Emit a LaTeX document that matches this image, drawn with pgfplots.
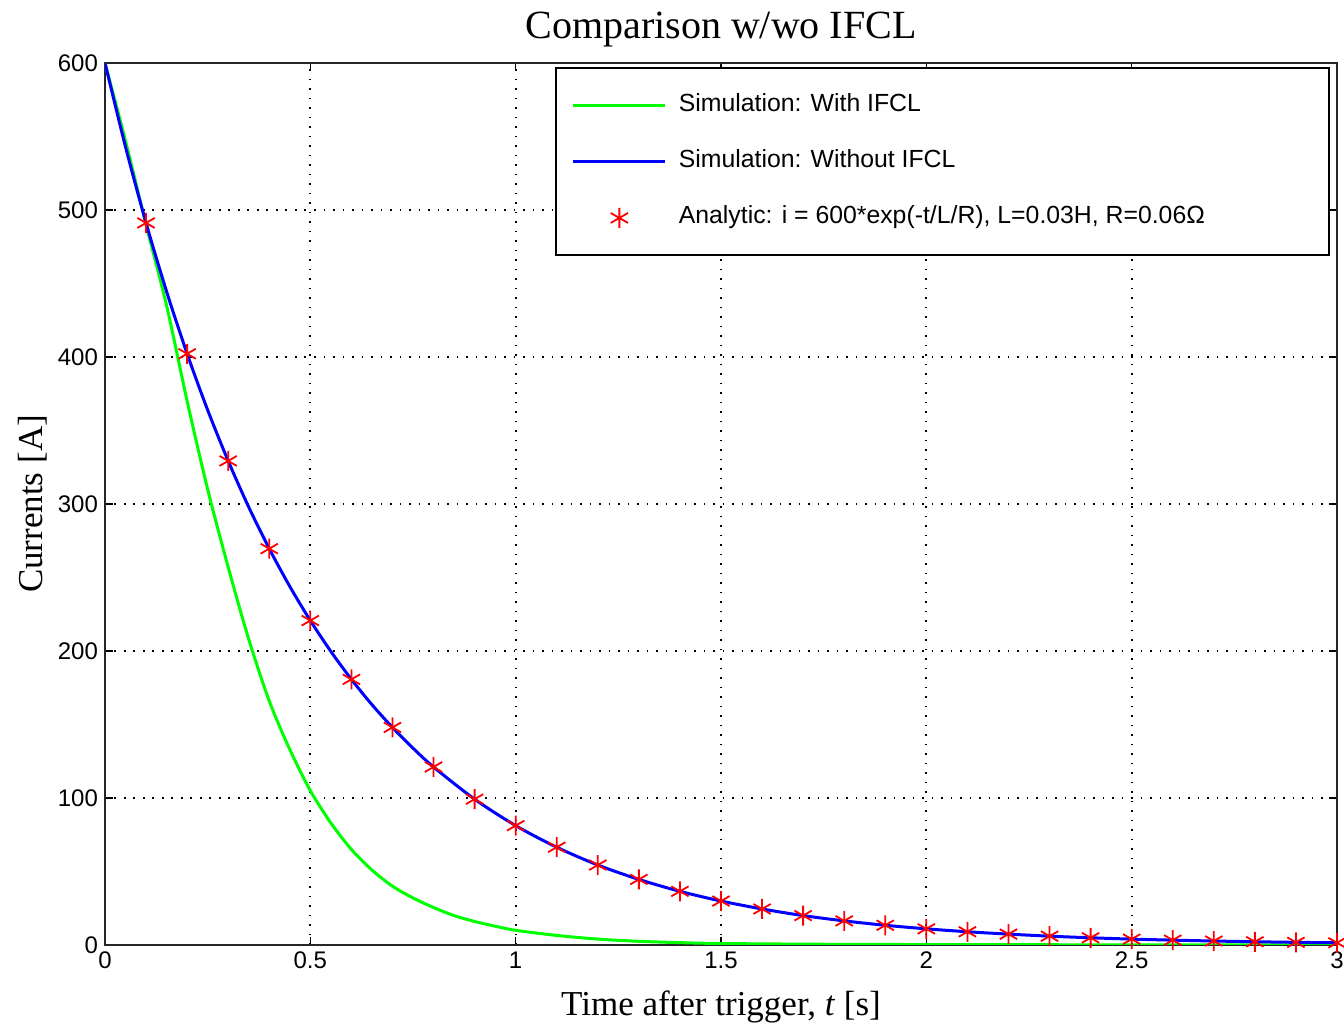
\documentclass[border=0pt]{standalone}
\usepackage{fontspec}
\setmainfont{Liberation Serif}
\setsansfont{Liberation Sans}
\usepackage{pgfplots}
\pgfplotsset{compat=1.18}
\begin{document}
\begin{tikzpicture}
\begin{axis}[
  scale only axis, width=616pt, height=441pt,
  xmin=0, xmax=3, ymin=0, ymax=600,
  xtick={0,0.5,1,1.5,2,2.5,3},
  xticklabels={0,0.5,1,1.5,2,2.5,3},
  ytick={0,100,200,300,400,500,600},
  tick align=inside, xtick pos=both, ytick pos=both,
  major tick length=4pt,
  tick style={black, line width=0.8pt},
  axis line style={line width=0.8pt, black!85},
  grid=major,
  major grid style={black, line width=0.9pt, dash pattern=on 0.9pt off 3.85pt},
  ticklabel style={font=\sffamily\fontsize{12}{14}\selectfont},
  /pgf/number format/assume math mode=true,
  title={\fontsize{20}{24}\selectfont Comparison w/wo IFCL},
  title style={at={(axis description cs:0.5,1.0144)}, anchor=base, yshift=0pt},
  xlabel={\fontsize{17.5}{20}\selectfont Time after trigger, \textit{t} [s]},
  xlabel style={at={(axis description cs:0.5,-0.0794)}, anchor=base},
  ylabel={\fontsize{17.5}{20}\selectfont Currents [A]},
  ylabel style={at={(axis description cs:-0.0511,0.5)}, anchor=base},
  legend cell align=left,
  legend image code/.code={\draw[mark repeat=2,mark phase=2,#1] plot coordinates {(0pt,0pt) (23pt,0pt) (46pt,0pt)};},
  legend style={at={(0.994,0.995)}, anchor=north east, draw=black, line width=0.75pt,
    font=\sffamily\fontsize{12.4}{14}\selectfont,
    inner xsep=8pt, inner ysep=12.5pt, row sep=16.2pt,
    nodes={inner sep=0pt, text height=9pt, text depth=3pt},
    /tikz/every odd column/.append style={column sep=6pt}},
]
\coordinate (sw) at (rel axis cs:0,0);
\coordinate (ne) at (rel axis cs:1,1);
\addplot[color={rgb,1:red,0;green,1;blue,0}, line width=1.5pt, smooth, tension=0.5] coordinates {
(0,600) (0.05,547) (0.1,490) (0.15,435) (0.2,370) (0.25,310)
(0.3,257) (0.35,208) (0.4,166) (0.45,133) (0.5,105) (0.55,83) (0.6,65) (0.65,51)
(0.7,40) (0.75,32) (0.8,25.5) (0.85,20) (0.9,16) (0.95,12.8) (1.0,10) (1.1,6.5)
(1.2,4) (1.3,2.5) (1.4,1.6) (1.5,1) (1.75,0.5) (2,0.3) (2.5,0.1) (3,0)};
\addlegendentry{\makebox[317pt][l]{Simulation: With IFCL}}
\addplot[color={rgb,1:red,0;green,0;blue,1}, line width=1.5pt, smooth] coordinates {
(0,600) (0.05,542.9) (0.1,491.2) (0.15,444.5) (0.2,402.2) (0.25,363.9) (0.3,329.3)
(0.35,297.9) (0.4,269.6) (0.45,243.9) (0.5,220.7) (0.55,199.7) (0.6,180.7) (0.65,163.5)
(0.7,148.0) (0.75,133.9) (0.8,121.1) (0.9,99.2) (1.0,81.2) (1.1,66.5) (1.2,54.4)
(1.3,44.6) (1.4,36.5) (1.5,29.9) (1.6,24.5) (1.7,20.0) (1.8,16.4) (1.9,13.4)
(2.0,11.0) (2.1,9.0) (2.2,7.4) (2.3,6.0) (2.4,4.9) (2.5,4.0) (2.6,3.3) (2.7,2.7)
(2.8,2.2) (2.9,1.8) (3.0,1.5)};
\addlegendentry{\makebox[317pt][l]{Simulation: Without IFCL}}
\addplot[only marks, mark=asterisk, mark size=5pt, color={rgb,1:red,1;green,0;blue,0}, line width=0.9pt] coordinates {
(0.1,491.2) (0.2,402.2) (0.3,329.3) (0.4,269.6) (0.5,220.7) (0.6,180.7) (0.7,148.0)
(0.8,121.1) (0.9,99.2) (1.0,81.2) (1.1,66.5) (1.2,54.4) (1.3,44.6) (1.4,36.5)
(1.5,29.9) (1.6,24.5) (1.7,20.0) (1.8,16.4) (1.9,13.4) (2.0,11.0) (2.1,9.0)
(2.2,7.4) (2.3,6.0) (2.4,4.9) (2.5,4.0) (2.6,3.3) (2.7,2.7) (2.8,2.2) (2.9,1.8) (3.0,1.5)};
\addlegendentry{\makebox[317pt][l]{Analytic: i = 600*exp(-t/L/R), L=0.03H, R=0.06Ω}}
\end{axis}
\pgfresetboundingbox
\path ([shift={(-52.5pt,-39.5pt)}]sw) rectangle ([shift={(3.5pt,31.5pt)}]ne);
\end{tikzpicture}
\end{document}
